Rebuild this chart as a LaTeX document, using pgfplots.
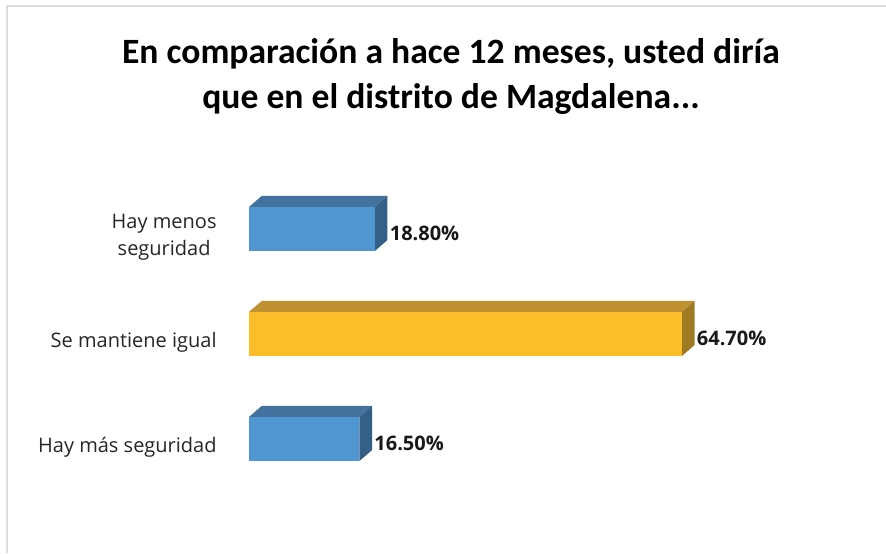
\documentclass[border=0pt]{standalone}
\usepackage{pgfplots}
\pgfplotsset{compat=1.18}
\usepackage{fontspec}
\setmainfont{Open Sans}
\newfontfamily\titlefont{Carlito}
\definecolor{bluefront}{HTML}{5097D2}
\definecolor{bluetop}{HTML}{44729E}
\definecolor{blueside}{HTML}{345F86}
\definecolor{goldfront}{HTML}{FCBE28}
\definecolor{goldtop}{HTML}{BF9130}
\definecolor{goldside}{HTML}{9E7A22}
\definecolor{frame}{HTML}{DCDCDC}
\begin{document}
\begin{tikzpicture}
\useasboundingbox (0,0) rectangle (443pt,276.5pt);
\fill[white] (0,0) rectangle (443pt,276.5pt);
\draw[frame, line width=1pt] (3.25pt,0) -- (3.25pt,273.25pt) -- (443pt,273.25pt);
\node[anchor=base, font=\titlefont\bfseries\fontsize{17.8}{20}\selectfont] at (225.5pt,244.5pt) {En comparación a hace 12 meses, usted diría};
\node[anchor=base, font=\titlefont\bfseries\fontsize{17.8}{20}\selectfont] at (225.5pt,222.5pt) {que en el distrito de Magdalena...};
\begin{axis}[
  anchor=origin, at={(124.5pt,57pt)},
  x=3.345pt, y=52.5pt,
  xmin=0, xmax=80, ymin=-0.5, ymax=2.5,
  axis x line=none, axis y line=left,
  y axis line style={draw=none},
  ytick={0,1,2}, ytick style={draw=none}, major tick length=0pt,
  yticklabels={Hay más seguridad, Se mantiene igual, {Hay menos\\seguridad}},
  yticklabel style={anchor=east, inner sep=0pt, xshift=-16pt, yshift=-4pt, align=center, font=\fontsize{10}{13.5}\selectfont, text=black!85},
  clip=false,
  every node near coord/.append style={anchor=west, xshift=4pt, yshift=-2pt, font=\bfseries\fontsize{10}{12}\selectfont, text=black!90},
]
% top faces
\addplot[fill=bluetop, draw=none] coordinates {(0,2.21) (1.9,2.315) (20.7,2.315) (18.8,2.21)} --cycle;
\addplot[fill=goldtop, draw=none] coordinates {(0,1.21) (1.9,1.315) (66.6,1.315) (64.7,1.21)} --cycle;
\addplot[fill=bluetop, draw=none] coordinates {(0,0.21) (1.9,0.315) (18.4,0.315) (16.5,0.21)} --cycle;
% side faces
\addplot[fill=blueside, draw=none] coordinates {(18.8,1.79) (18.8,2.21) (20.7,2.315) (20.7,1.895)} --cycle;
\addplot[fill=goldside, draw=none] coordinates {(64.7,0.79) (64.7,1.21) (66.6,1.315) (66.6,0.895)} --cycle;
\addplot[fill=blueside, draw=none] coordinates {(16.5,-0.21) (16.5,0.21) (18.4,0.315) (18.4,-0.105)} --cycle;
% front faces
\addplot[xbar, bar width=22pt, bar shift=0pt, fill=bluefront, draw=none,
  nodes near coords={\pgfmathprintnumber[fixed,fixed zerofill,precision=2,assume math mode=true]{\pgfplotspointmeta}\%}]
  coordinates {(18.8,2)};
\addplot[xbar, bar width=22pt, bar shift=0pt, fill=goldfront, draw=none,
  nodes near coords={\pgfmathprintnumber[fixed,fixed zerofill,precision=2,assume math mode=true]{\pgfplotspointmeta}\%}]
  coordinates {(64.7,1)};
\addplot[xbar, bar width=22pt, bar shift=0pt, fill=bluefront, draw=none,
  nodes near coords={\pgfmathprintnumber[fixed,fixed zerofill,precision=2,assume math mode=true]{\pgfplotspointmeta}\%}]
  coordinates {(16.5,0)};
\end{axis}
\end{tikzpicture}
\end{document}
